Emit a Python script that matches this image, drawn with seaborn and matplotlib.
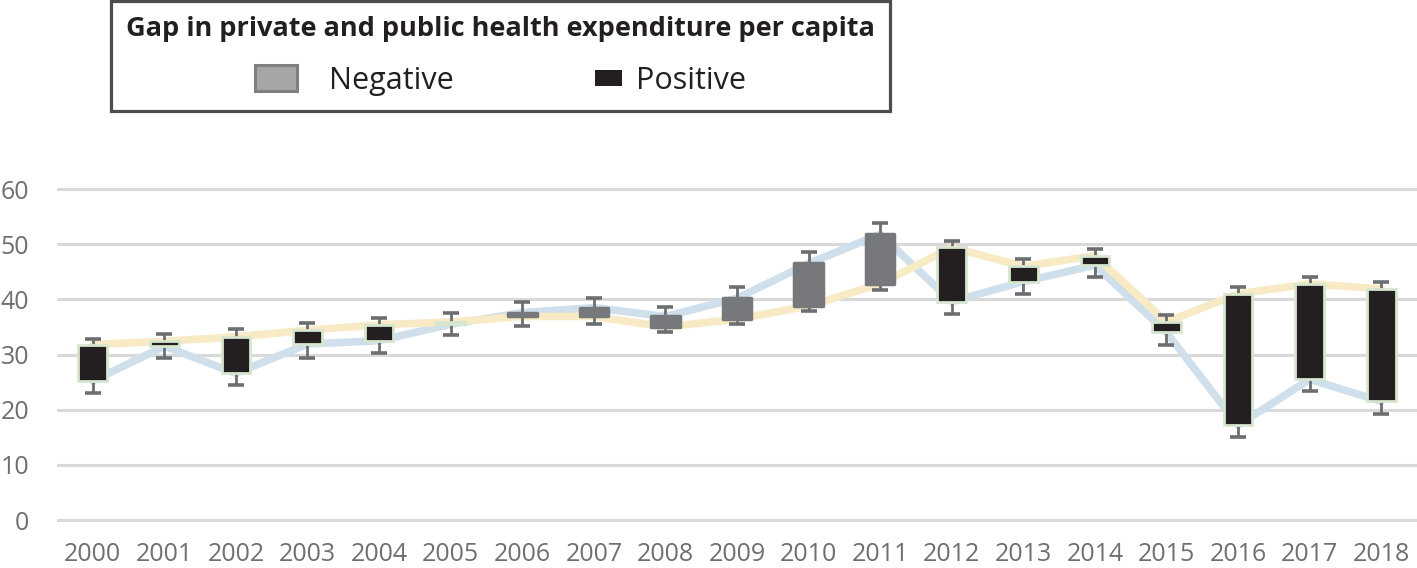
import numpy as np
import pandas as pd
import matplotlib
matplotlib.use("Agg")
import matplotlib.pyplot as plt
import seaborn as sns
from matplotlib.patches import Patch, Rectangle
from matplotlib.legend_handler import HandlerPatch

# values
years = [str(y) for y in range(2000, 2019)]
series_yellow = [31.8, 32.4, 33.2, 34.4, 35.4, 35.9, 36.9, 36.9, 35.0, 36.4,
                 38.8, 42.8, 49.4, 46.0, 47.9, 35.9, 41.0, 42.8, 41.9]
series_blue = [25.2, 31.5, 26.6, 31.9, 32.5, 35.5, 37.6, 38.5, 36.9, 40.2,
               46.5, 51.8, 39.6, 43.2, 46.2, 34.0, 17.2, 25.5, 21.5]
high = [32.8, 33.7, 34.6, 35.8, 36.7, 37.5, 39.5, 40.2, 38.7, 42.2,
        48.5, 53.9, 50.6, 47.4, 49.1, 37.2, 42.2, 44.1, 43.1]
low = [23.0, 29.3, 24.4, 29.4, 30.2, 33.5, 35.2, 35.6, 34.0, 35.5,
       37.8, 41.7, 37.3, 41.0, 44.1, 31.7, 15.1, 23.3, 19.2]
yticks = [0, 10, 20, 30, 40, 50, 60]

df = pd.DataFrame({"year": years, "yellow": series_yellow, "blue": series_blue,
                   "high": high, "low": low})
df["pos"] = np.arange(len(df))
df["top"] = df[["yellow", "blue"]].max(axis=1)
df["bottom"] = df[["yellow", "blue"]].min(axis=1)
df["positive"] = df["yellow"] >= df["blue"]

sns.set_theme(style="white")
plt.rcParams["font.family"] = ["Open Sans", "DejaVu Sans"]

BLACK = "#231f20"
GRAY = "#77787b"
TICK = "#6f6f6f"

fig = plt.figure(figsize=(14.17, 5.68), dpi=100)
ax = fig.add_axes([0.0402, 0.0806, 0.9598, 0.5905])

# the two lines
sns.lineplot(data=df, x="pos", y="blue", color="#cfdfeb", linewidth=5.5, ax=ax, zorder=2)
sns.lineplot(data=df, x="pos", y="yellow", color="#f8eac4", linewidth=5.5, ax=ax, zorder=2.1)

# high-low whiskers
ax.errorbar(df["pos"], df["top"], yerr=[df["top"] - df["low"], df["high"] - df["top"]],
            fmt="none", ecolor="#6d6e71", elinewidth=2, capsize=5.8, capthick=2.6, zorder=3)

# up/down boxes
pos = df[df["positive"]]
neg = df[~df["positive"]]
ax.bar(pos["pos"], pos["top"] - pos["bottom"], bottom=pos["bottom"], width=0.4,
       color=BLACK, edgecolor="#d6e6d0", linewidth=2, zorder=4)
ax.bar(neg["pos"], neg["top"] - neg["bottom"], bottom=neg["bottom"], width=0.4,
       color=GRAY, edgecolor=GRAY, linewidth=2.5, joinstyle="round", zorder=4)

ax.set_xlim(-0.5, len(years) - 0.5)
ax.set_ylim(-0.4, 60.4)
ax.set_xticks(df["pos"])
ax.set_xticklabels(years)
ax.set_yticks(yticks)
ax.set_xlabel("")
ax.set_ylabel("")
ax.yaxis.grid(True, color="#d9d9d9", linewidth=2.2)
ax.xaxis.grid(False)
ax.set_axisbelow(True)
for s in ax.spines.values():
    s.set_visible(False)
ax.tick_params(axis="y", length=0, pad=20, labelsize=18, labelcolor=TICK)
ax.tick_params(axis="x", length=0, pad=14, labelsize=18, labelcolor=TICK)


# legend box at the top
def small_rect(legend, orig_handle, xdescent, ydescent, width, height, fontsize):
    return Rectangle((-xdescent + width * 0.8, -ydescent + height * 0.2),
                     width * 0.63, height * 0.6)


neg_patch = Patch(facecolor="#a6a6a6", edgecolor="#808080", linewidth=2.2)
pos_patch = Patch(facecolor=BLACK, edgecolor=BLACK, linewidth=0)
leg = fig.legend([neg_patch, pos_patch], ["Negative", "Positive"],
                 loc="upper left", bbox_to_anchor=(0.078, 0.998), ncol=2,
                 title="Gap in private and public health expenditure per capita",
                 title_fontproperties={"weight": "bold", "size": 19.5},
                 fontsize=22, frameon=True, fancybox=False, borderaxespad=0,
                 handlelength=1.4, handleheight=0.9, handletextpad=1.05,
                 columnspacing=3.5, borderpad=0.5, labelspacing=0.75,
                 handler_map={pos_patch: HandlerPatch(patch_func=small_rect)})
leg.get_frame().set_edgecolor(BLACK)
leg.get_frame().set_linewidth(2.3)
leg.get_title().set_color(BLACK)
for t in leg.get_texts():
    t.set_color(BLACK)

fig.savefig("out.png", dpi=100)
